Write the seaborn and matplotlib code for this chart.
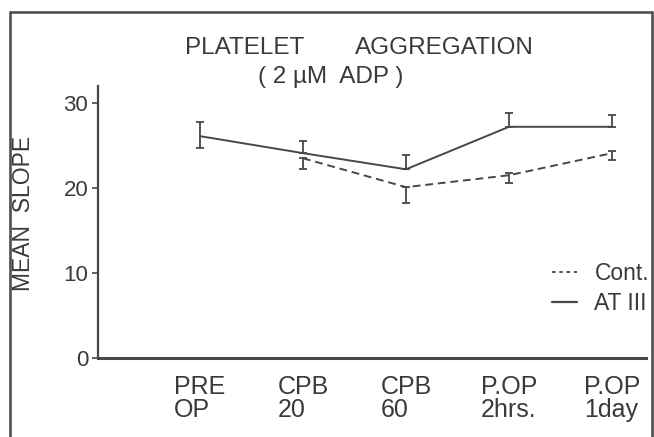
import numpy as np
import pandas as pd
import matplotlib
matplotlib.use("Agg")
import matplotlib.pyplot as plt
from matplotlib.lines import Line2D
import seaborn as sns

# ---- data ----
categories = ["PRE\nOP", "CPB\n20", "CPB\n60", "P.OP\n2hrs.", "P.OP\n1day"]
at3_mean = [26.1, 24.1, 22.2, 27.2, 27.2]
at3_err_up = [1.7, 1.4, 1.7, 1.6, 1.4]
at3_err_down = [1.4, 0.0, 0.0, 0.0, 0.0]
cont_mean = [np.nan, 23.5, 20.1, 21.5, 24.1]
cont_err_up = [0.0, 0.0, 0.0, 0.3, 0.2]
cont_err_down = [0.0, 1.3, 1.9, 0.9, 0.8]
yticks = [0, 10, 20, 30]
series_names = ["Cont.", "AT III"]

INK = "#474747"
TXT = "#3a3a3a"

sns.set_theme(style="white")
plt.rcParams["font.family"] = ["Liberation Sans", "DejaVu Sans"]

pos = np.arange(len(categories))
df = pd.DataFrame({
    "pos": np.concatenate([pos, pos]),
    "value": np.concatenate([cont_mean, at3_mean]),
    "group": [series_names[0]] * len(pos) + [series_names[1]] * len(pos),
})

fig = plt.figure(figsize=(6.54, 4.37), dpi=100)
W, H = 654, 437
ax = fig.add_axes([98 / W, 1 - 358 / H, 548 / W, 272 / H])

sns.lineplot(data=df.dropna(), x="pos", y="value", style="group",
             style_order=series_names,
             dashes={series_names[0]: (4, 2.5), series_names[1]: ""},
             color=INK, linewidth=1.4, legend=False, ax=ax, sort=False)

for m, lo, hi in [(at3_mean, at3_err_down, at3_err_up),
                  (cont_mean, cont_err_down, cont_err_up)]:
    m = np.array(m, dtype=float)
    ok = ~np.isnan(m)
    ax.errorbar(pos[ok], m[ok], yerr=[np.array(lo)[ok], np.array(hi)[ok]],
                fmt="none", ecolor=INK, elinewidth=1.3, capsize=3.2,
                capthick=1.3)

ax.set_xlim(-0.99, 4.33)
ax.set_ylim(0, 32.0)
ax.set_xticks(pos)
ax.set_xticklabels(categories, fontsize=18, color=TXT, linespacing=0.95,
                   multialignment="left")
ax.set_yticks(yticks)
ax.set_yticklabels([str(v) for v in yticks], fontsize=16, color=TXT)
ax.tick_params(axis="x", length=0, pad=12)
ax.tick_params(axis="y", length=4, width=1.2, color=INK, pad=3, left=True)
ax.set_xlabel("")
ax.set_ylabel("MEAN  SLOPE", fontsize=16.5, color=TXT)
ax.yaxis.label.set_va("center")
ax.yaxis.set_label_coords((24 - 98) / 548, (358 - 213) / 272)

for s in ["top", "right"]:
    ax.spines[s].set_visible(False)
ax.spines["left"].set_color(INK)
ax.spines["left"].set_linewidth(1.6)
ax.spines["bottom"].set_color(INK)
ax.spines["bottom"].set_linewidth(2.2)

handles = [Line2D([], [], color=INK, linewidth=1.3, linestyle=(0, (2, 2))),
           Line2D([], [], color=INK, linewidth=1.6)]
leg = ax.legend(handles, series_names, loc="upper left",
                bbox_to_anchor=(552 / W, 1 - 262 / H),
                bbox_transform=fig.transFigure, frameon=False,
                fontsize=16.5, handlelength=1.1, handletextpad=0.75,
                labelspacing=0.3, borderpad=0, borderaxespad=0)
for t in leg.get_texts():
    t.set_color(TXT)

fig.text(185 / W, 1 - 54 / H, "PLATELET", fontsize=17.5, color=TXT,
         ha="left", va="baseline")
fig.text(355 / W, 1 - 54 / H, "AGGREGATION", fontsize=17.5, color=TXT,
         ha="left", va="baseline")
fig.text(258 / W, 1 - 83 / H, "( 2 µM  ADP )", fontsize=17.5, color=TXT,
         ha="left", va="baseline")

# scanned page frame
fc = "#505050"
fig.add_artist(Line2D([10 / W, 10 / W], [0, 1 - 12 / H], transform=fig.transFigure,
                      color=fc, linewidth=1.9))
fig.add_artist(Line2D([10 / W, 652 / W], [1 - 12 / H, 1 - 12 / H],
                      transform=fig.transFigure, color=fc, linewidth=1.9))
fig.add_artist(Line2D([652 / W, 652 / W], [0, 1 - 12 / H], transform=fig.transFigure,
                      color=fc, linewidth=1.9))

fig.savefig("out.png", dpi=100)
